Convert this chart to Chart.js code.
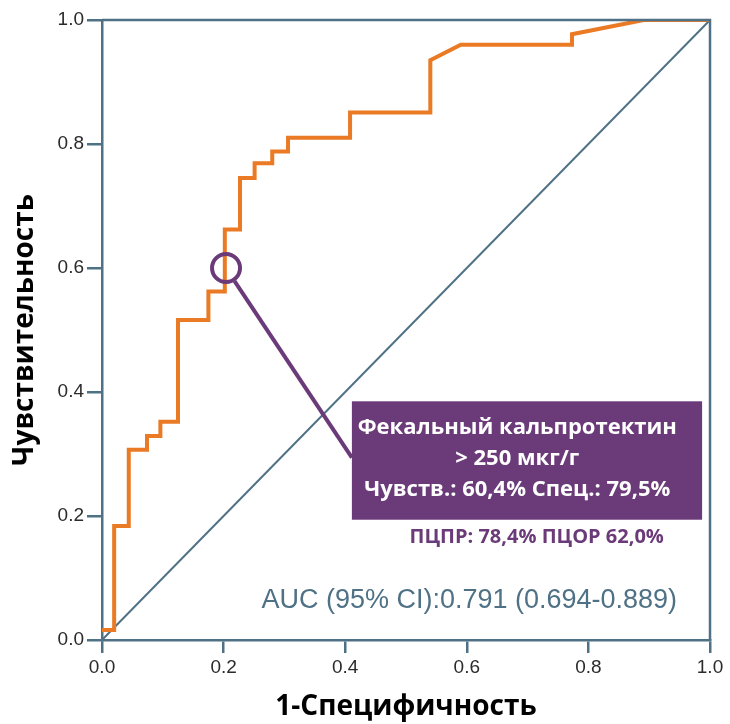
<!DOCTYPE html>
<html>
<head>
<meta charset="utf-8">
<script src="https://cdn.jsdelivr.net/npm/chart.js@4/dist/chart.umd.min.js"></script>
<style>
  html, body { margin: 0; padding: 0; background: #fff; }
  #wrap { width: 730px; height: 724px; }
</style>
</head>
<body>
<div id="wrap"><canvas id="rocChart" width="730" height="724"></canvas></div>
<script>
// --- ДАННЫЕ ROC-КРИВОЙ ---
const fpr = [0, 0.02, 0.02, 0.044, 0.044, 0.074, 0.074, 0.096, 0.096, 0.125, 0.125, 0.175, 0.175,
             0.202, 0.202, 0.227, 0.227, 0.251, 0.251, 0.280, 0.280, 0.306, 0.306, 0.408, 0.408,
             0.540, 0.540, 0.590, 0.773, 0.773, 0.891, 1.0];
const tpr = [0.016, 0.016, 0.184, 0.184, 0.307, 0.307, 0.329, 0.329, 0.352, 0.352, 0.516, 0.516, 0.562,
             0.562, 0.662, 0.662, 0.745, 0.745, 0.769, 0.769, 0.788, 0.788, 0.810, 0.810, 0.851,
             0.851, 0.935, 0.960, 0.960, 0.977, 1.0, 1.0];
const refX = [0, 1];
const refY = [0, 1];
const tickValues = [0, 0.2, 0.4, 0.6, 0.8, 1.0];

// точка отсечения и выноска
const cutX = [0.204];
const cutY = [0.600];
const leaderX = [0.218, 0.411];
const leaderY = [0.579, 0.294];

const boxLines = ['Фекальный кальпротектин', '> 250 мкг/г', 'Чувств.: 60,4% Спец.: 79,5%'];
const pvLine = 'ПЦПР: 78,4% ПЦОР 62,0%';
const aucLine = 'AUC (95% CI):0.791 (0.694-0.889)';

const AXIS = '#4f7185';
const ORANGE = '#ea7a24';
const PURPLE = '#6b3a79';

const toPts = (xs, ys) => xs.map((x, i) => ({ x: x, y: ys[i] }));

// рамка, плашка и подписи
const annotations = {
    id: 'annotations',
    afterDatasetsDraw(chart) {
        const { ctx, chartArea: a, scales: { x, y } } = chart;
        ctx.save();
        // верх и правая сторона рамки
        ctx.strokeStyle = AXIS;
        ctx.lineWidth = 2.5;
        ctx.beginPath();
        ctx.moveTo(a.left, a.top);
        ctx.lineTo(a.right, a.top);
        ctx.lineTo(a.right, a.bottom);
        ctx.stroke();

        // фиолетовая плашка
        const bx0 = x.getPixelForValue(0.411), bx1 = x.getPixelForValue(0.987);
        const by0 = y.getPixelForValue(0.385), by1 = y.getPixelForValue(0.194);
        ctx.fillStyle = PURPLE;
        ctx.fillRect(bx0, by0, bx1 - bx0, by1 - by0);

        ctx.textAlign = 'center';
        ctx.textBaseline = 'middle';
        ctx.fillStyle = '#ffffff';
        ctx.font = 'bold 22px "Open Sans"';
        const lineY = [0.342, 0.292, 0.242];
        boxLines.forEach((t, i) => {
            ctx.fillText(t, x.getPixelForValue(0.683), y.getPixelForValue(lineY[i]));
        });

        ctx.fillStyle = PURPLE;
        ctx.font = 'bold 20px "Open Sans"';
        ctx.fillText(pvLine, x.getPixelForValue(0.715), y.getPixelForValue(0.165));

        ctx.fillStyle = AXIS;
        ctx.font = '27px "Liberation Sans"';
        ctx.fillText(aucLine, x.getPixelForValue(0.604), y.getPixelForValue(0.063));
        ctx.restore();
    }
};

document.addEventListener('DOMContentLoaded', () => {
    const ctx = document.getElementById('rocChart');
    new Chart(ctx, {
        type: 'scatter',
        data: {
            datasets: [
                {
                    label: 'Точка отсечения',
                    data: toPts(cutX, cutY),
                    pointRadius: 14,
                    pointBorderWidth: 4,
                    pointBorderColor: PURPLE,
                    pointBackgroundColor: 'rgba(0,0,0,0)',
                    showLine: false
                },
                {
                    label: 'ROC',
                    data: toPts(fpr, tpr),
                    showLine: true,
                    borderColor: ORANGE,
                    borderWidth: 4,
                    pointRadius: 0,
                    tension: 0,
                    borderJoinStyle: 'miter'
                },
                {
                    label: 'Выноска',
                    data: toPts(leaderX, leaderY),
                    showLine: true,
                    borderColor: PURPLE,
                    borderWidth: 4,
                    pointRadius: 0
                },
                {
                    label: 'Диагональ',
                    data: toPts(refX, refY),
                    showLine: true,
                    borderColor: AXIS,
                    borderWidth: 2,
                    pointRadius: 0
                }
            ]
        },
        options: {
            responsive: false,
            animation: false,
            layout: { padding: { top: 20, right: 20, left: 0, bottom: 0 } },
            plugins: {
                legend: { display: false },
                tooltip: { enabled: false }
            },
            scales: {
                x: {
                    type: 'linear',
                    min: 0,
                    max: 1,
                    afterBuildTicks: (s) => { s.ticks = tickValues.map(v => ({ value: v })); },
                    afterFit: (s) => { s.height = 84; },
                    ticks: {
                        callback: (v) => Number(v).toFixed(1),
                        color: '#2b2b2b',
                        font: { family: '"Liberation Sans"', size: 19 },
                        padding: 3,
                        maxRotation: 0
                    },
                    grid: { drawOnChartArea: false, tickLength: 13, color: AXIS, lineWidth: 2.5 },
                    border: { color: AXIS, width: 2.5 },
                    title: {
                        display: true,
                        text: '1-Специфичность',
                        color: '#000',
                        font: { family: '"Open Sans"', size: 28, weight: 'bold' },
                        padding: { top: 0, bottom: 0 }
                    }
                },
                y: {
                    type: 'linear',
                    min: 0,
                    max: 1,
                    afterBuildTicks: (s) => { s.ticks = tickValues.map(v => ({ value: v })); },
                    afterFit: (s) => { s.width = 102; },
                    ticks: {
                        callback: (v) => Number(v).toFixed(1),
                        color: '#2b2b2b',
                        font: { family: '"Liberation Sans"', size: 19 },
                        padding: 3
                    },
                    grid: { drawOnChartArea: false, tickLength: 15, color: AXIS, lineWidth: 2.5 },
                    border: { color: AXIS, width: 2.5 },
                    title: {
                        display: true,
                        text: 'Чувствительность',
                        color: '#000',
                        font: { family: '"Open Sans"', size: 28, weight: 'bold' },
                        padding: { top: 8, bottom: 0 }
                    }
                }
            }
        },
        plugins: [annotations]
    });
});
</script>
</body>
</html>
